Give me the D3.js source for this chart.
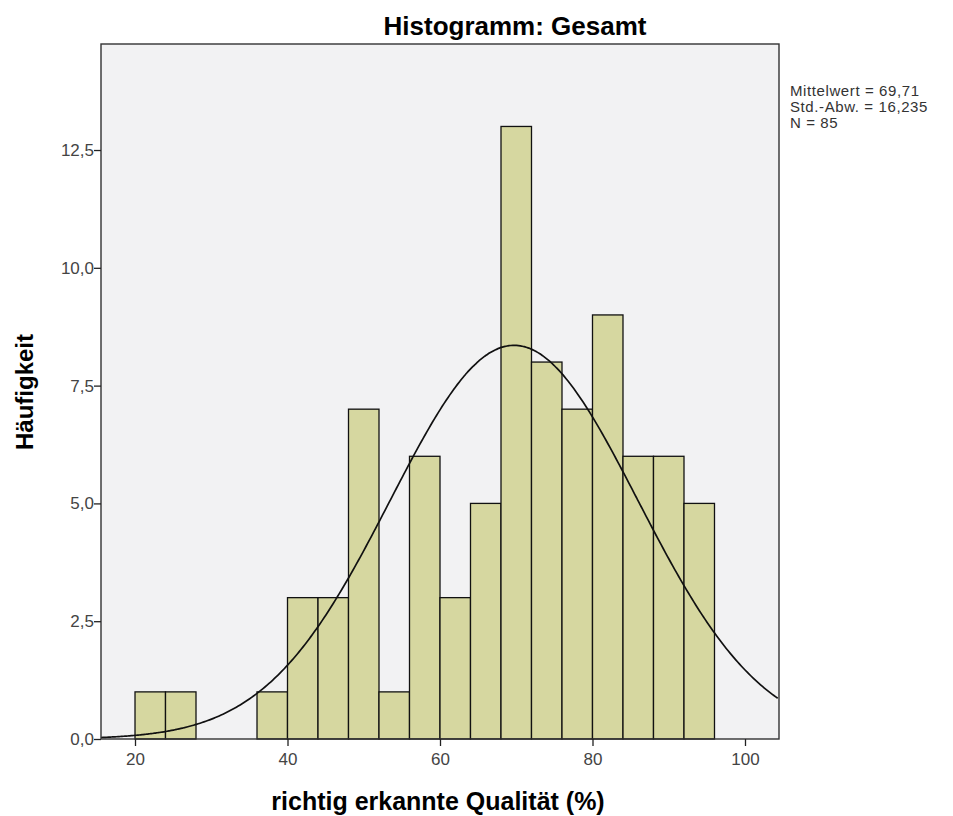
<!DOCTYPE html>
<html>
<head>
<meta charset="utf-8">
<script src="https://cdn.jsdelivr.net/npm/d3@7"></script>
<style>
  body { margin: 0; background: #fff; }
  svg text { font-family: "Liberation Sans", Arial, sans-serif; }
</style>
</head>
<body>
<div id="chart"></div>
<script>
// bins (lower edge, %), counts
const binStart = [20, 24, 36, 40, 44, 48, 52, 56, 60, 64, 68, 72, 76, 80, 84, 88, 92]
const counts = [1, 1, 1, 3, 3, 7, 1, 6, 3, 5, 13, 8, 7, 9, 6, 6, 5]
const binWidth = 4
const xTicks = [20, 40, 60, 80, 100]
const yTicks = [0, 2.5, 5, 7.5, 10, 12.5]
const statLines = ['Mittelwert = 69,71', 'Std.-Abw. = 16,235', 'N = 85']
const mean = 69.71, sd = 16.235, n = 85

const width = 953, height = 816
const plot = {left: 101, right: 779, top: 44, bottom: 739}

const svg = d3.select('#chart').append('svg')
  .attr('width', width)
  .attr('height', height)

const x = d3.scaleLinear().domain([15.54, 104.46]).range([plot.left, plot.right])
const y = d3.scaleLinear().domain([0, 14.75]).range([plot.bottom, plot.top])

const fmt = d => d3.format('.1f')(d).replace('.', ',')

// background
svg.append('rect')
  .attr('x', plot.left).attr('y', plot.top)
  .attr('width', plot.right - plot.left)
  .attr('height', plot.bottom - plot.top)
  .attr('fill', '#f2f2f3')

// bars
svg.selectAll('rect.bar')
  .data(binStart)
  .enter()
  .append('rect')
  .attr('class', 'bar')
  .attr('x', d => x(d))
  .attr('y', (d, i) => y(counts[i]))
  .attr('width', d => x(d + binWidth) - x(d))
  .attr('height', (d, i) => y(0) - y(counts[i]))
  .attr('fill', '#d6d7a0')
  .attr('stroke', '#111')
  .attr('stroke-width', 1.3)

// normal curve from the stats
const curveX = d3.range(15.54, 104.47, 0.25)
const peak = n * binWidth / (sd * Math.sqrt(2 * Math.PI))
const line = d3.line()
  .x(d => x(d))
  .y(d => y(peak * Math.exp(-0.5 * Math.pow((d - mean) / sd, 2))))
  .curve(d3.curveBasis)

svg.append('path')
  .datum(curveX)
  .attr('d', line)
  .attr('fill', 'none')
  .attr('stroke', '#111')
  .attr('stroke-width', 1.7)

// frame
svg.append('rect')
  .attr('x', plot.left).attr('y', plot.top)
  .attr('width', plot.right - plot.left)
  .attr('height', plot.bottom - plot.top)
  .attr('fill', 'none')
  .attr('stroke', '#333')
  .attr('stroke-width', 1.4)

// axes
const xAxis = d3.axisBottom(x).tickValues(xTicks).tickSize(7).tickSizeOuter(0)
const yAxis = d3.axisLeft(y).tickValues(yTicks).tickSize(7).tickSizeOuter(0).tickFormat(fmt)

const gx = svg.append('g')
  .attr('transform', `translate(0,${plot.bottom})`)
  .call(xAxis)
gx.select('.domain').remove()
gx.selectAll('line').attr('stroke', '#222').attr('stroke-width', 1.3)
gx.selectAll('text').attr('font-size', 17).attr('fill', '#444').attr('dy', '0.95em')

const gy = svg.append('g')
  .attr('transform', `translate(${plot.left},0)`)
  .call(yAxis)
gy.select('.domain').remove()
gy.selectAll('line').attr('stroke', '#222').attr('stroke-width', 1.3)
gy.selectAll('text').attr('font-size', 17).attr('fill', '#444').attr('x', -7)

// title + labels
svg.append('text')
  .attr('x', 515).attr('y', 35)
  .attr('text-anchor', 'middle')
  .attr('font-size', 26).attr('font-weight', 'bold')
  .text('Histogramm: Gesamt')

svg.append('text')
  .attr('x', 438).attr('y', 810)
  .attr('text-anchor', 'middle')
  .attr('font-size', 25).attr('font-weight', 'bold')
  .text('richtig erkannte Qualität (%)')

svg.append('text')
  .attr('transform', 'translate(33,392) rotate(-90)')
  .attr('text-anchor', 'middle')
  .attr('font-size', 24).attr('font-weight', 'bold')
  .text('Häufigkeit')

// stats box
svg.selectAll('text.stat')
  .data(statLines)
  .enter()
  .append('text')
  .attr('class', 'stat')
  .attr('x', 790)
  .attr('y', (d, i) => 96 + i * 16)
  .attr('font-size', 15)
  .attr('letter-spacing', 0.6)
  .attr('fill', '#333')
  .text(d => d)
</script>
</body>
</html>
